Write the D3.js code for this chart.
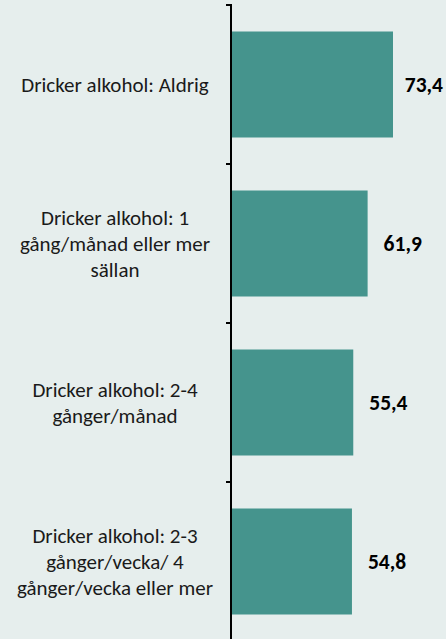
<!DOCTYPE html>
<html>
<head>
<meta charset="utf-8">
<script src="https://cdn.jsdelivr.net/npm/d3@7"></script>
<style>
  html, body { margin: 0; padding: 0; background: #E6EEED; }
  svg { display: block; }
</style>
</head>
<body>
<svg id="chart" width="446" height="639"></svg>
<script>
const categories = [
  "Dricker alkohol: Aldrig",
  "Dricker alkohol: 1\ngång/månad eller mer\nsällan",
  "Dricker alkohol: 2-4\ngånger/månad",
  "Dricker alkohol: 2-3\ngånger/vecka/ 4\ngånger/vecka eller mer"
];
const values = [73.4, 61.9, 55.4, 54.8];
const valueLabels = ["73,4", "61,9", "55,4", "54,8"];

const W = 446, H = 639;
const svg = d3.select("#chart");
svg.append("rect").attr("width", W).attr("height", H).attr("fill", "#E6EEED");

const axisX = 231;
const fontFam = "Carlito, Calibri, Lato, 'Open Sans', sans-serif";

const y = d3.scaleBand().domain(categories).range([5, 641]).paddingInner(1/3).paddingOuter(1/6);
const x = d3.scaleLinear().domain([0, 100]).range([axisX, axisX + 220.7]);

// bars
svg.append("g").selectAll("rect").data(values).join("rect")
  .attr("x", x(0))
  .attr("y", (d, i) => y(categories[i]))
  .attr("width", d => x(d) - x(0))
  .attr("height", y.bandwidth())
  .attr("fill", "#45948D");

// axis line with boundary ticks
const step = y.step();
const bounds = categories.map(c => y(c) - y.paddingInner() * step / 2);
bounds.push(bounds[bounds.length - 1] + step);
const ax = svg.append("g");
ax.append("line").attr("x1", axisX).attr("x2", axisX).attr("y1", bounds[0] - 1).attr("y2", H)
  .attr("stroke", "#000").attr("stroke-width", 2);
ax.selectAll("line.tick").data(bounds).join("line").attr("class", "tick")
  .attr("x1", axisX - 5).attr("x2", axisX).attr("y1", d => d).attr("y2", d => d)
  .attr("stroke", "#000").attr("stroke-width", 2);

// category labels
const lineH = 26;
const labels = svg.append("g").selectAll("text").data(categories).join("text")
  .attr("text-anchor", "middle")
  .attr("font-family", fontFam)
  .attr("font-size", 21)
  .attr("fill", "#1a1a1a");
labels.each(function(c) {
  const lines = c.split("\n");
  const cy = y(c) + y.bandwidth() / 2;
  const t = d3.select(this);
  lines.forEach((ln, k) => {
    t.append("tspan").attr("x", 115)
      .attr("y", cy + (k - (lines.length - 1) / 2) * lineH)
      .attr("dy", "0.35em")
      .text(ln);
  });
});

// value labels
svg.append("g").selectAll("text").data(values).join("text")
  .attr("font-family", fontFam)
  .attr("font-size", 21.5)
  .attr("font-weight", "bold")
  .attr("fill", "#000")
  .attr("y", (d, i) => y(categories[i]) + y.bandwidth() / 2)
  .attr("dy", "0.35em")
  .text((d, i) => valueLabels[i])
  .attr("x", function(d) {
    const w = this.getComputedTextLength();
    return Math.min(x(d) + 16, W - 3 - w);
  });
</script>
</body>
</html>
